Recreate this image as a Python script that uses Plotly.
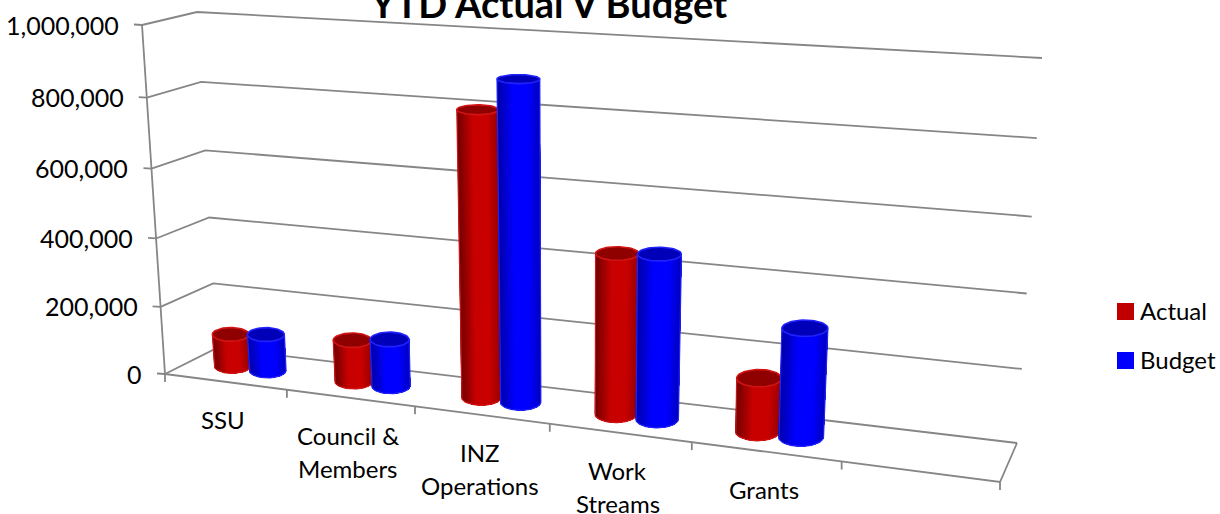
import math
import plotly.graph_objects as go

# Chart data
categories = ["SSU", "Council &<br>Members", "INZ<br>Operations", "Work<br>Streams", "Grants"]
actual = [96000, 121000, 803000, 445000, 146000]
budget = [108000, 136000, 892000, 454000, 294000]
value_ticks = [0, 200000, 400000, 600000, 800000, 1000000]
AXIS_MAX = 1000000
SLOTS = 6  # the category axis carries one empty slot at its right end

# Pixel positions of the eight corners of the 3-D plot box: (across, depth, height)
BOX = {
    (0, 0, 0): (165, 374), (1, 0, 0): (1000, 482),
    (0, 1, 0): (217, 348), (1, 1, 0): (1017, 443),
    (0, 0, 1): (142, 25),  (1, 0, 1): (1027, 76),
    (0, 1, 1): (197, 12),  (1, 1, 1): (1042, 58),
}
PERSPECTIVE_ACROSS = 1.17
PERSPECTIVE_UP = 1.05

GRID = "#868686"
FONT = "Lato"
BAR_OFFSET = 0.148
BAR_RADIUS = 0.153
BAR_DEPTH_RADIUS = 0.27
STRIPS = 40


def project(slot, depth, value):
    """Project (category slot, depth 0..1, value) onto the page."""
    u = slot / SLOTS
    t = u / (u + PERSPECTIVE_ACROSS * (1 - u))
    v = value / AXIS_MAX
    w = v / (v + PERSPECTIVE_UP * (1 - v))
    x = y = 0.0
    for (i, j, k), (px, py) in BOX.items():
        weight = (t if i else 1 - t) * (depth if j else 1 - depth) * (w if k else 1 - w)
        x += weight * px
        y += weight * py
    return x, y


def mix(c1, c2, f):
    return tuple(round(a + (b - a) * f) for a, b in zip(c1, c2))


def css(c):
    return "rgb(%d,%d,%d)" % c


def shade(s, dark, base, edge):
    """Colour across a cylinder, s running -1 (left) to 1 (right)."""
    if s < -0.25:
        return mix(dark, base, (s + 1) / 0.75)
    if s > 0.45:
        return mix(base, edge, (s - 0.45) / 0.55)
    return base


fig = go.Figure()


def line(points, width=1.8, color=GRID):
    xs, ys = zip(*points)
    fig.add_trace(go.Scatter(x=xs, y=ys, mode="lines", showlegend=False, hoverinfo="skip",
                             line=dict(color=color, width=width)))


# Walls and floor
for val in value_ticks:
    line([project(0, 0, val), project(0, 1, val), project(SLOTS, 1, val)])
    x0, y0 = project(0, 0, val)
    line([(x0 - 8, y0 - 0.5), (x0, y0)])
    fig.add_annotation(x=x0 - 21, y=y0 - 0.5, text=f"{val:,}", showarrow=False, xanchor="right",
                       yanchor="middle", xref="x", yref="y",
                       font=dict(family=FONT, size=25, color="#000000"))
line([project(0, 0, 0), project(0, 0, AXIS_MAX)])
line([project(0, 0, 0), project(SLOTS, 0, 0), project(SLOTS, 1, 0)])
for slot in range(SLOTS + 1):
    x0, y0 = project(slot, 0, 0)
    line([(x0, y0), (x0, y0 + 8)])


def cylinder(slot, value, dark, base, edge, cap, rim):
    def ends(val):
        cx, cy = project(slot, 0.5, val)
        a = (project(slot + BAR_RADIUS, 0.5, val)[0] - project(slot - BAR_RADIUS, 0.5, val)[0]) / 2
        b = (project(slot, 0.5 - BAR_DEPTH_RADIUS, val)[1] - project(slot, 0.5 + BAR_DEPTH_RADIUS, val)[1]) / 2
        return cx, cy, a, b

    cxb, cyb, ab, bb = ends(0)
    cxt, cyt, at, bt = ends(value)

    def front(cx, cy, a, b, s):
        return cx + a * s, cy + b * math.sqrt(max(0.0, 1 - s * s))

    # Side wall: each band runs from its left edge to the far right and is painted
    # over by the next one, which leaves no seams between the shades
    for n in range(STRIPS):
        s0 = -math.cos(math.pi * n / STRIPS)
        s1 = -math.cos(math.pi * (n + 1) / STRIPS)
        colour = css(shade((s0 + s1) / 2, dark, base, edge))
        steps = [s0 + (1 - s0) * i / 30 for i in range(31)]
        pts = [front(cxb, cyb, ab, bb, s) for s in steps]
        pts += [front(cxt, cyt, at, bt, s) for s in reversed(steps)]
        xs, ys = zip(*pts)
        fig.add_trace(go.Scatter(x=xs + xs[:1], y=ys + ys[:1], mode="lines", fill="toself",
                                 fillcolor=colour, line=dict(color=colour, width=0),
                                 showlegend=False, hoverinfo="skip"))
    # Soft lighter outline down the two sides and under the base
    outline = [(cxt - at, cyt)]
    outline += [front(cxb, cyb, ab, bb, -math.cos(math.pi * i / 40)) for i in range(41)]
    outline += [(cxt + at, cyt)]
    xs, ys = zip(*outline)
    fig.add_trace(go.Scatter(x=xs, y=ys, mode="lines", showlegend=False, hoverinfo="skip",
                             line=dict(color=rim, width=1.2)))
    # Top face
    angles = [2 * math.pi * i / 60 for i in range(61)]
    fig.add_trace(go.Scatter(x=[cxt + at * math.cos(q) for q in angles],
                             y=[cyt + bt * math.sin(q) for q in angles],
                             mode="lines", fill="toself", fillcolor=cap,
                             line=dict(color=rim, width=1.6),
                             showlegend=False, hoverinfo="skip"))


RED = dict(dark=(112, 0, 0), base=(200, 0, 0), edge=(150, 0, 0), cap="#8f0000", rim="#d21414")
BLUE = dict(dark=(0, 0, 165), base=(0, 0, 255), edge=(0, 0, 190), cap="#0000b8", rim="#2222ff")

for i in range(len(categories)):
    cylinder(i + 0.5 - BAR_OFFSET, actual[i], **RED)
    cylinder(i + 0.5 + BAR_OFFSET, budget[i], **BLUE)

# Category labels, one annotation per line to keep the wide line spacing
for i, name in enumerate(categories):
    x0, y0 = project(i + 0.5, 0, 0)
    for n, part in enumerate(name.split("<br>")):
        fig.add_annotation(x=x0 - 2, y=y0 + 37.5 + 33 * n, text=part, showarrow=False, xanchor="center",
                           yanchor="middle", xref="x", yref="y",
                           font=dict(family=FONT, size=24, color="#000000"))

# Key on the right
for name, colour, ypos in [("Actual", "#c00000", 311.5), ("Budget", "#0000ff", 360.5)]:
    fig.add_trace(go.Scatter(x=[1125.5], y=[ypos], mode="markers", showlegend=False, hoverinfo="skip",
                             marker=dict(symbol="square", size=17, color=colour)))
    fig.add_annotation(x=1138, y=ypos - 1.5, text=name, showarrow=False, xanchor="left", yanchor="middle",
                       xref="x", yref="y", font=dict(family=FONT, size=24, color="#000000"))

fig.update_layout(
    width=1220, height=514, autosize=False,
    margin=dict(l=0, r=0, t=0, b=0),
    paper_bgcolor="#ffffff", plot_bgcolor="#ffffff",
    showlegend=False,
    title=dict(text="<b>YTD Actual V Budget</b>", x=549 / 1220, xanchor="center",
               y=1 - 5 / 514, yanchor="middle", yref="container",
               font=dict(family=FONT, size=38, color="#000000")),
    xaxis=dict(range=[0, 1220], visible=False, fixedrange=True),
    yaxis=dict(range=[514, 0], visible=False, fixedrange=True),
)

fig.write_html("out.html", config=dict(displayModeBar=False))
